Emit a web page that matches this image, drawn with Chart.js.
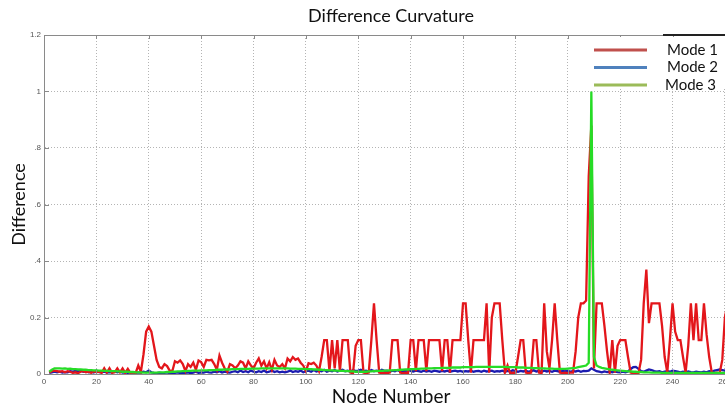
<!DOCTYPE html>
<html>
<head>
<meta charset="utf-8">
<script src="https://cdn.jsdelivr.net/npm/chart.js@4.4.1/dist/chart.umd.min.js"></script>
<style>
  html, body { margin: 0; padding: 0; background: #fff; overflow: hidden; }
  #wrap { position: relative; width: 725px; height: 412px; overflow: hidden; }
</style>
</head>
<body>
<div id="wrap"><canvas id="curveChart" width="738" height="412"></canvas></div>
<script>
// node numbers start at 2, one value per node
const firstNode = 2;

const mode1 = [
  0.005, 0.01, 0.012, 0.01, 0.008, 0.01, 0.006, 0.01, 0.008, 0.004,
  0.006, 0.003, 0.008, 0.01, 0.006, 0.008, 0.004, 0.01, 0.006, 0.008,
  0.004, 0.02, 0.005, 0.02, 0.004, 0.006, 0.02, 0.006, 0.02, 0.004,
  0.018, 0.004, 0.006, 0.004, 0.03, 0.008, 0.07, 0.15, 0.168, 0.15,
  0.1, 0.05, 0.025, 0.02, 0.035, 0.028, 0.012, 0.01, 0.045, 0.04,
  0.048, 0.035, 0.01, 0.035, 0.025, 0.04, 0.015, 0.048, 0.042, 0.025,
  0.05, 0.048, 0.05, 0.035, 0.015, 0.065, 0.04, 0.02, 0.008, 0.035,
  0.03, 0.02, 0.03, 0.045, 0.04, 0.02, 0.045, 0.03, 0.02, 0.04,
  0.055, 0.03, 0.045, 0.02, 0.042, 0.015, 0.05, 0.03, 0.025, 0.035,
  0.02, 0.055, 0.045, 0.06, 0.05, 0.055, 0.04, 0.03, 0.01, 0.038,
  0.035, 0.04, 0.03, 0.01, 0.06, 0.12, 0.12, 0.01, 0.12, 0.02,
  0.12, 0.01, 0.12, 0.12, 0.12, 0.005, 0.003, 0.1, 0.12, 0.12,
  0.005, 0.003, 0.005, 0.12, 0.25, 0.12, 0.005, 0.003, 0.005, 0.003,
  0.005, 0.12, 0.12, 0.12, 0.005, 0.003, 0.005, 0.003, 0.12, 0.12,
  0.01, 0.12, 0.12, 0.12, 0.01, 0.12, 0.12, 0.12, 0.12, 0.12,
  0.01, 0.12, 0.12, 0.005, 0.12, 0.12, 0.12, 0.12, 0.25, 0.25,
  0.12, 0.005, 0.12, 0.12, 0.12, 0.12, 0.12, 0.25, 0.005, 0.2,
  0.25, 0.25, 0.25, 0.12, 0.005, 0.03, 0.003, 0.005, 0.003, 0.06,
  0.12, 0.12, 0.005, 0.003, 0.005, 0.12, 0.12, 0.005, 0.003, 0.25,
  0.08, 0.02, 0.12, 0.25, 0.12, 0.005, 0.003, 0.005, 0.003, 0.005,
  0.005, 0.08, 0.2, 0.25, 0.25, 0.26, 0.7, 0.88, 0.02, 0.25,
  0.25, 0.25, 0.17, 0.08, 0.005, 0.12, 0.005, 0.1, 0.12, 0.12,
  0.12, 0.06, 0.005, 0.003, 0.005, 0.003, 0.05, 0.25, 0.37, 0.18,
  0.25, 0.25, 0.25, 0.25, 0.17, 0.06, 0.005, 0.12, 0.25, 0.15,
  0.12, 0.12, 0.06, 0.005, 0.1, 0.25, 0.12, 0.25, 0.12, 0.12,
  0.25, 0.14, 0.06, 0.005, 0.003, 0.005, 0.003, 0.05, 0.2, 0.25, 0.25
];

const mode2 = [
  0.004, 0.006, 0.008, 0.006, 0.008, 0.005, 0.007, 0.006, 0.01, 0.008,
  0.012, 0.01, 0.012, 0.008, 0.012, 0.006, 0.008, 0.005, 0.012, 0.007,
  0.006, 0.008, 0.005, 0.007, 0.006, 0.01, 0.006, 0.008, 0.005, 0.006,
  0.004, 0.006, 0.005, 0.004, 0.006, 0.005, 0.008, 0.006, 0.012, 0.006,
  0.004, 0.003, 0.005, 0.003, 0.004, 0.006, 0.003, 0.005, 0.004, 0.006,
  0.003, 0.005, 0.004, 0.006, 0.003, 0.005, 0.008, 0.004, 0.006, 0.005,
  0.008, 0.006, 0.005, 0.008, 0.006, 0.01, 0.005, 0.008, 0.006, 0.005,
  0.008, 0.01, 0.006, 0.012, 0.007, 0.01, 0.006, 0.012, 0.008, 0.006,
  0.01, 0.007, 0.012, 0.006, 0.008, 0.012, 0.007, 0.01, 0.006, 0.008,
  0.006, 0.008, 0.012, 0.007, 0.01, 0.008, 0.012, 0.006, 0.01, 0.012,
  0.008, 0.014, 0.009, 0.012, 0.01, 0.015, 0.008, 0.012, 0.01, 0.014,
  0.009, 0.012, 0.015, 0.01, 0.012, 0.008, 0.014, 0.01, 0.012, 0.015,
  0.01, 0.012, 0.008, 0.014, 0.01, 0.012, 0.009, 0.015, 0.011, 0.012,
  0.008, 0.012, 0.01, 0.014, 0.009, 0.012, 0.01, 0.015, 0.011, 0.009,
  0.012, 0.01, 0.008, 0.012, 0.009, 0.011, 0.008, 0.012, 0.01, 0.008,
  0.011, 0.009, 0.012, 0.008, 0.01, 0.012, 0.009, 0.011, 0.008, 0.01,
  0.009, 0.012, 0.008, 0.01, 0.011, 0.008, 0.012, 0.009, 0.01, 0.012,
  0.008, 0.01, 0.009, 0.012, 0.008, 0.011, 0.009, 0.013, 0.01, 0.008,
  0.011, 0.009, 0.012, 0.008, 0.01, 0.013, 0.009, 0.011, 0.008, 0.012,
  0.009, 0.011, 0.008, 0.012, 0.01, 0.008, 0.011, 0.009, 0.012, 0.008,
  0.01, 0.009, 0.012, 0.008, 0.011, 0.01, 0.012, 0.02, 0.015, 0.01,
  0.008, 0.006, 0.009, 0.007, 0.008, 0.006, 0.009, 0.007, 0.006, 0.008,
  0.006, 0.009, 0.018, 0.024, 0.025, 0.018, 0.01, 0.008, 0.012, 0.016,
  0.014, 0.01, 0.008, 0.01, 0.006, 0.008, 0.01, 0.008, 0.012, 0.01,
  0.008, 0.006, 0.008, 0.006, 0.009, 0.007, 0.006, 0.008, 0.007, 0.006,
  0.008, 0.006, 0.01, 0.008, 0.012, 0.014, 0.016, 0.014, 0.012, 0.014, 0.016
];

const mode3 = [
  0.008, 0.015, 0.02, 0.02, 0.02, 0.019, 0.02, 0.018, 0.019, 0.017,
  0.017, 0.016, 0.016, 0.015, 0.015, 0.014, 0.014, 0.013, 0.013, 0.012,
  0.012, 0.011, 0.011, 0.01, 0.01, 0.01, 0.009, 0.009, 0.008, 0.008,
  0.008, 0.007, 0.007, 0.006, 0.006, 0.006, 0.005, 0.005, 0.005, 0.005,
  0.005, 0.005, 0.006, 0.006, 0.006, 0.007, 0.007, 0.008, 0.008, 0.009,
  0.009, 0.01, 0.01, 0.011, 0.011, 0.012, 0.012, 0.012, 0.013, 0.013,
  0.013, 0.014, 0.014, 0.014, 0.015, 0.015, 0.015, 0.016, 0.016, 0.016,
  0.017, 0.017, 0.017, 0.018, 0.018, 0.018, 0.018, 0.019, 0.019, 0.019,
  0.019, 0.02, 0.02, 0.02, 0.02, 0.02, 0.02, 0.02, 0.02, 0.02,
  0.02, 0.02, 0.019, 0.019, 0.019, 0.018, 0.018, 0.018, 0.017, 0.017,
  0.017, 0.016, 0.016, 0.015, 0.015, 0.014, 0.014, 0.013, 0.013, 0.012,
  0.012, 0.011, 0.011, 0.01, 0.01, 0.009, 0.009, 0.008, 0.008, 0.008,
  0.008, 0.008, 0.009, 0.009, 0.01, 0.01, 0.011, 0.011, 0.012, 0.012,
  0.013, 0.013, 0.014, 0.014, 0.015, 0.015, 0.016, 0.016, 0.017, 0.017,
  0.018, 0.018, 0.019, 0.019, 0.02, 0.02, 0.02, 0.021, 0.021, 0.021,
  0.022, 0.022, 0.022, 0.022, 0.023, 0.023, 0.023, 0.023, 0.024, 0.024,
  0.024, 0.024, 0.024, 0.025, 0.025, 0.025, 0.025, 0.025, 0.025, 0.025,
  0.025, 0.025, 0.025, 0.025, 0.025, 0.024, 0.024, 0.024, 0.024, 0.023,
  0.023, 0.023, 0.022, 0.022, 0.022, 0.021, 0.021, 0.02, 0.02, 0.02,
  0.019, 0.019, 0.019, 0.018, 0.018, 0.018, 0.018, 0.018, 0.019, 0.02,
  0.021, 0.022, 0.024, 0.026, 0.028, 0.03, 0.04, 1.0, 0.06, 0.03,
  0.025, 0.022, 0.02, 0.018, 0.016, 0.015, 0.014, 0.013, 0.012, 0.011,
  0.01, 0.009, 0.009, 0.008, 0.008, 0.007, 0.007, 0.006, 0.006, 0.006,
  0.005, 0.005, 0.005, 0.005, 0.004, 0.004, 0.004, 0.004, 0.004, 0.004,
  0.004, 0.004, 0.004, 0.004, 0.004, 0.004, 0.004, 0.004, 0.004, 0.004,
  0.004, 0.004, 0.004, 0.004, 0.004, 0.004, 0.004, 0.004, 0.004, 0.004, 0.004
];

const xTicks = [0, 20, 40, 60, 80, 100, 120, 140, 160, 180, 200, 220, 240, 260];
const yTicks = [0, 0.2, 0.4, 0.6, 0.8, 1, 1.2];
const yTickText = ['0', '0.2', '.4', '.6', '.8', '1', '1.2'];

const legendNames = ['Mode 1', 'Mode 2', 'Mode 3'];
const legendColors = ['#c0504d', '#4f81bd', '#9bbb59'];

function toPoints(values) {
    return values.map((v, i) => ({ x: firstNode + i, y: v }));
}

// frame: top border + small inward ticks like the matlab axes
const framePlugin = {
    id: 'frame',
    afterDraw(chart) {
        const ctx = chart.ctx;
        const a = chart.chartArea;
        const xs = chart.scales.x, ys = chart.scales.y;
        ctx.save();
        ctx.strokeStyle = '#8a8a8a';
        ctx.lineWidth = 1;
        ctx.beginPath();
        ctx.moveTo(a.left, a.top + 0.5);
        ctx.lineTo(a.right, a.top + 0.5);
        xTicks.forEach(v => {
            const px = Math.round(xs.getPixelForValue(v)) + 0.5;
            ctx.moveTo(px, a.top);
            ctx.lineTo(px, a.top + 4);
            ctx.moveTo(px, a.bottom);
            ctx.lineTo(px, a.bottom - 4);
        });
        yTicks.forEach(v => {
            const py = Math.round(ys.getPixelForValue(v)) + 0.5;
            ctx.moveTo(a.left, py);
            ctx.lineTo(a.left + 5, py);
        });
        ctx.stroke();
        ctx.restore();
    }
};

// legend pasted over the plot, top right
const boxLegendPlugin = {
    id: 'boxLegend',
    afterDraw(chart) {
        const ctx = chart.ctx;
        ctx.save();
        ctx.fillStyle = '#ffffff';
        ctx.fillRect(582, 37, 160, 52);
        ctx.strokeStyle = '#222';
        ctx.lineWidth = 2;
        ctx.beginPath();
        ctx.moveTo(663, 35);
        ctx.lineTo(740, 35);
        ctx.stroke();
        ctx.font = '15px Lato, "Open Sans", sans-serif';
        ctx.textBaseline = 'middle';
        ctx.textAlign = 'left';
        legendNames.forEach((name, i) => {
            const y = 50 + i * 17.5;
            ctx.strokeStyle = legendColors[i];
            ctx.lineWidth = 3;
            ctx.beginPath();
            ctx.moveTo(594, y);
            ctx.lineTo(647, y);
            ctx.stroke();
            ctx.fillStyle = '#111';
            ctx.fillText(name, 667 - (i === 2 ? 2 : 0), y);
        });
        ctx.restore();
    }
};

new Chart(document.getElementById('curveChart'), {
    type: 'line',
    data: {
        datasets: [
            { label: 'Mode 1', data: toPoints(mode1), borderColor: '#e3161b', borderWidth: 2.3, pointRadius: 0, tension: 0, order: 1 },
            { label: 'Mode 2', data: toPoints(mode2), borderColor: '#1c1cb0', borderWidth: 2.3, pointRadius: 0, tension: 0, order: 2 },
            { label: 'Mode 3', data: toPoints(mode3), borderColor: '#26dc26', borderWidth: 2.3, pointRadius: 0, tension: 0, order: 0 }
        ]
    },
    options: {
        responsive: false,
        animation: false,
        layout: { padding: 0 },
        plugins: {
            legend: { display: false },
            tooltip: { enabled: false },
            title: {
                display: true,
                text: 'Difference Curvature',
                fullSize: false,
                color: '#111',
                font: { family: 'Lato, "Open Sans", sans-serif', size: 18, weight: 'normal' },
                padding: { top: 5, bottom: 8.4 }
            }
        },
        scales: {
            x: {
                type: 'linear',
                min: 0,
                max: 265,
                afterBuildTicks: s => { s.ticks = xTicks.map(v => ({ value: v })); },
                afterFit: s => { s.height = 38; },
                grid: { color: '#b4b4b4', drawTicks: false },
                border: { color: '#8a8a8a', dash: [1, 2] },
                ticks: { color: '#555', padding: 3, maxRotation: 0, font: { family: '"Liberation Sans", Arial', size: 8 } },
                title: {
                    display: true,
                    text: 'Node Number',
                    color: '#111',
                    font: { family: 'Lato, "Open Sans", sans-serif', size: 19 },
                    padding: { top: 0, bottom: 4 }
                }
            },
            y: {
                min: 0,
                max: 1.2,
                afterBuildTicks: s => { s.ticks = yTicks.map(v => ({ value: v })); },
                afterFit: s => { s.width = 44; },
                grid: { color: '#b4b4b4', drawTicks: false },
                border: { color: '#8a8a8a', dash: [1, 2] },
                ticks: {
                    color: '#555',
                    padding: 3,
                    font: { family: '"Liberation Sans", Arial', size: 8 },
                    callback: (v, i) => yTickText[i]
                },
                title: {
                    display: true,
                    text: 'Difference',
                    color: '#111',
                    font: { family: 'Lato, "Open Sans", sans-serif', size: 18 },
                    padding: { top: 8, bottom: 0 }
                }
            }
        }
    },
    plugins: [framePlugin, boxLegendPlugin]
});
</script>
</body>
</html>
